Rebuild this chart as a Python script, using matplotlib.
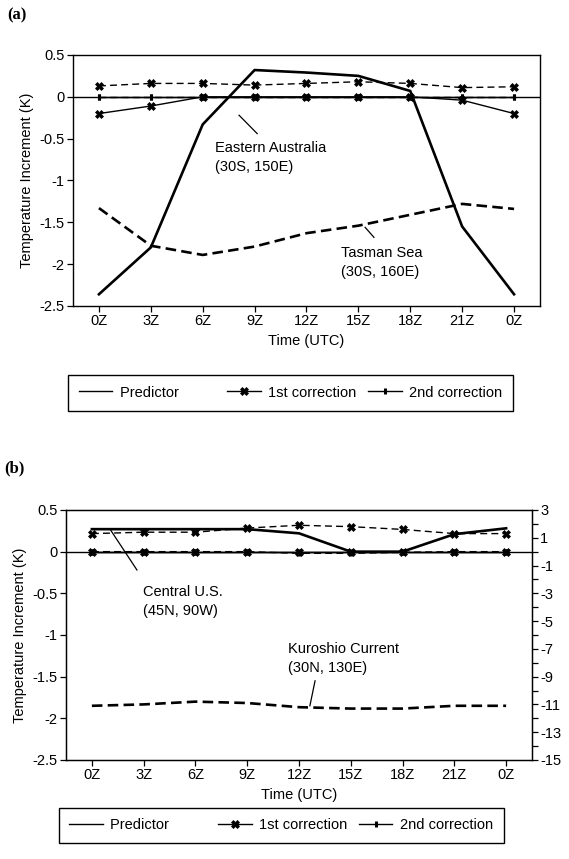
"""
Diurnal temperature increments: predictor plus 1st/2nd corrections,
(a) Eastern Australia / Tasman Sea, (b) Central U.S. / Kuroshio Current.
"""
import matplotlib
matplotlib.use("Agg")
import matplotlib.pyplot as plt
from matplotlib.lines import Line2D
from matplotlib.ticker import MultipleLocator

plt.rcParams["font.family"] = ["Liberation Sans", "DejaVu Sans"]

# ── data ──────────────────────────────────────────────────────────────────────
hours = ["0Z", "3Z", "6Z", "9Z", "12Z", "15Z", "18Z", "21Z", "0Z"]

# panel (a)
ea_pred = [-2.36, -1.80, -0.33, 0.32, 0.29, 0.25, 0.07, -1.55, -2.36]
ea_c1 = [-0.20, -0.11, 0.0, 0.0, 0.0, 0.0, 0.0, -0.04, -0.20]
ea_c2 = [0.0, 0.0, 0.0, 0.0, 0.0, 0.0, 0.0, 0.0, 0.0]
ts_pred = [-1.33, -1.78, -1.89, -1.79, -1.63, -1.54, -1.41, -1.28, -1.34]
ts_c1 = [0.13, 0.16, 0.16, 0.14, 0.16, 0.18, 0.16, 0.11, 0.12]
ts_c2 = [0.0, 0.0, 0.0, 0.0, 0.0, 0.0, 0.0, 0.0, 0.0]

# panel (b) -- Central U.S. on left axis, Kuroshio on right axis
cu_pred = [0.27, 0.27, 0.27, 0.27, 0.22, 0.0, 0.0, 0.21, 0.28]
cu_c1 = [0.0, 0.0, 0.0, 0.0, 0.0, 0.0, 0.0, 0.0, 0.0]
cu_c2 = [0.0, 0.0, 0.0, 0.0, 0.0, 0.0, 0.0, 0.0, 0.0]
ku_pred = [-11.1, -11.0, -10.8, -10.9, -11.2, -11.3, -11.3, -11.1, -11.1]
ku_c1 = [1.3, 1.4, 1.4, 1.7, 1.9, 1.8, 1.6, 1.3, 1.3]
ku_c2 = [0.0, 0.0, 0.0, 0.0, -0.12, -0.12, -0.05, 0.0, 0.0]

left_ticks = [0.5, 0, -0.5, -1, -1.5, -2, -2.5]
right_ticks = [3, 1, -1, -3, -5, -7, -9, -11, -13, -15]

FS = 9.5
X = list(range(len(hours)))

fig = plt.figure(figsize=(5.69, 8.59), dpi=100)


def series(ax, y, ls, thick=False, marker=None):
    kw = dict(color="black", lw=1.9 if thick else 1.0)
    if ls == "--":
        kw["dashes"] = (4, 2) if thick else (5, 3)
    if marker == "x":
        kw.update(marker="X", ms=6, mec="black", mfc="black", mew=0.5)
    elif marker == "|":
        kw.update(marker="|", ms=5, mew=2.2)
    ax.plot(X, y, ls if ls != "--" else "--", **kw)


def style_axis(ax):
    ax.set_xlim(-0.5, 8.5)
    ax.set_ylim(-2.5, 0.5)
    ax.set_yticks(left_ticks)
    ax.set_yticklabels([f"{t:g}" for t in left_ticks], fontsize=FS + 1)
    ax.set_xticks(X)
    ax.set_xticklabels(hours, fontsize=FS + 1)
    ax.tick_params(direction="out", length=4, width=0.9, pad=2)
    ax.axhline(0, color="black", lw=1.0, zorder=1)
    for s in ax.spines.values():
        s.set_linewidth(1.0)
    ax.set_ylabel("Temperature Increment (K)", fontsize=FS + 1, labelpad=4)
    ax.set_xlabel("Time (UTC)", fontsize=FS + 1, labelpad=4)


def legend_at(cx, cy):
    handles = [
        Line2D([], [], color="black", lw=1.0),
        Line2D([], [], color="black", lw=1.0, marker="X", ms=6, mew=0.5),
        Line2D([], [], color="black", lw=1.0, marker="|", ms=5, mew=2.2),
    ]
    labels = ["Predictor" + " " * 9, "1st correction", "2nd correction"]
    leg = fig.legend(handles, labels, loc="center", bbox_to_anchor=(cx, cy),
                     ncol=3, fontsize=FS + 1, frameon=True, fancybox=False,
                     edgecolor="black", handlelength=2.3, handletextpad=0.5,
                     columnspacing=0.8, borderpad=0.75, framealpha=1)
    leg.get_frame().set_linewidth(1.0)


# ── panel (a) ─────────────────────────────────────────────────────────────────
axa = fig.add_axes([0.1283, 0.6438, 0.8207, 0.2922])
series(axa, ea_pred, "-", thick=True)
series(axa, ts_pred, "--", thick=True)
series(axa, ea_c1, "-", marker="x")
series(axa, ts_c1, "--", marker="x")
series(axa, ea_c2, "-", marker="|")
series(axa, ts_c2, "--", marker="|")
style_axis(axa)

axa.text(2.24, -0.73, "Eastern Australia\n(30S, 150E)", fontsize=FS + 1,
         ha="left", va="center", linespacing=1.45)
axa.plot([2.70, 3.05], [-0.22, -0.44], color="black", lw=0.9)
axa.text(4.66, -1.98, "Tasman Sea\n(30S, 160E)", fontsize=FS + 1,
         ha="left", va="center", linespacing=1.5)
axa.plot([5.13, 5.30], [-1.56, -1.68], color="black", lw=0.9)

fig.text(0.012, 0.982, "(a)", fontsize=12, fontweight="bold",
         family=["Liberation Serif", "DejaVu Serif"], ha="left", va="center")
legend_at(0.5105, 0.543)

# ── panel (b) ─────────────────────────────────────────────────────────────────
axb = fig.add_axes([0.116, 0.1153, 0.819, 0.291])
series(axb, cu_pred, "-", thick=True)
series(axb, cu_c1, "-", marker="x")
series(axb, cu_c2, "-", marker="|")
style_axis(axb)

axr = axb.twinx()
axr.set_ylim(-15, 3)
axr.set_xlim(-0.5, 8.5)
series(axr, ku_pred, "--", thick=True)
series(axr, ku_c1, "--", marker="x")
series(axr, ku_c2, "--", marker="|")
axr.set_yticks(right_ticks)
axr.set_yticklabels([f"{t:g}" for t in right_ticks], fontsize=FS + 1)
axr.yaxis.set_minor_locator(MultipleLocator(1))
axr.tick_params(which="both", direction="out", length=4, width=0.9, pad=2)

axb.text(0.99, -0.60, "Central U.S.\n(45N, 90W)", fontsize=FS + 1,
         ha="left", va="center", linespacing=1.4)
axb.plot([0.35, 0.87], [0.27, -0.22], color="black", lw=0.9)
axb.text(3.79, -1.28, "Kuroshio Current\n(30N, 130E)", fontsize=FS + 1,
         ha="left", va="center", linespacing=1.4)
axb.plot([4.31, 4.21], [-1.55, -1.85], color="black", lw=0.9)

fig.text(0.008, 0.455, "(b)", fontsize=12, fontweight="bold",
         family=["Liberation Serif", "DejaVu Serif"], ha="left", va="center")
legend_at(0.494, 0.039)

fig.savefig("out.png", dpi=100)
